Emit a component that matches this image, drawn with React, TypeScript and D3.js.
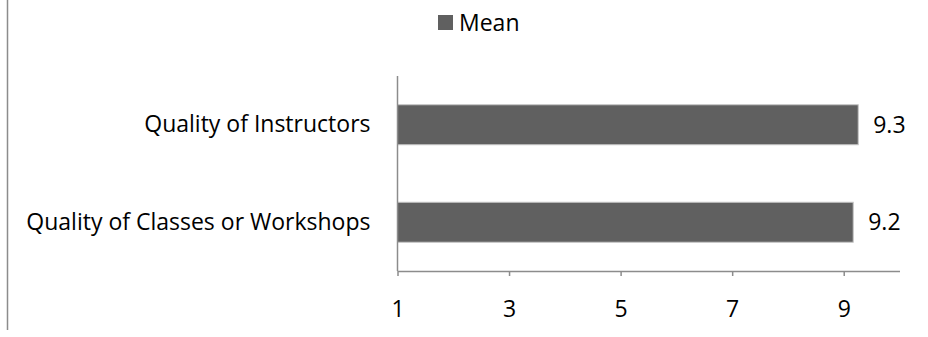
import { useEffect, useRef } from 'react';
import * as d3 from 'd3';

const categories = ['Quality of Instructors', 'Quality of Classes or Workshops'];
const meanValues = [9.26, 9.17];
const valueLabels = ['9.3', '9.2'];
const xTicks = [1, 3, 5, 7, 9];
const seriesName = 'Mean';

const FONT = '"Open Sans", "Noto Sans", sans-serif';
const FONT_SIZE = 23;

export default function App() {
	const svgRef = useRef<SVGSVGElement>(null);

	useEffect(() => {
		const width = 928;
		const height = 337;
		const plot = { left: 397.5, right: 899.5, top: 76, bottom: 271 };

		const svg = d3.select(svgRef.current)
			.attr('width', width)
			.attr('height', height);

		svg.selectAll('*').remove();

		// frame line on the left edge
		svg.append('line')
			.attr('x1', 7.5).attr('x2', 7.5)
			.attr('y1', 0).attr('y2', 330)
			.attr('stroke', '#8c8c8c')
			.attr('stroke-width', 1.5);

		const x = d3.scaleLinear()
			.domain([1, 10])
			.range([plot.left, plot.right]);

		const y = d3.scaleBand()
			.domain(categories)
			.range([plot.top, plot.bottom])
			.paddingInner(0.59)
			.paddingOuter(0.295);

		// legend
		const legend = svg.append('g').attr('transform', 'translate(438, 15)');
		legend.append('rect')
			.attr('width', 15).attr('height', 15)
			.attr('fill', '#606060');
		legend.append('text')
			.attr('x', 21).attr('y', 7.5)
			.attr('dy', '0.35em')
			.attr('font-family', FONT)
			.attr('font-size', FONT_SIZE)
			.attr('fill', '#000')
			.text(seriesName);

		// bars
		svg.append('g')
			.selectAll('rect')
			.data(categories)
			.join('rect')
			.attr('x', x(1))
			.attr('y', d => y(d)!)
			.attr('width', (d, i) => x(meanValues[i]) - x(1))
			.attr('height', y.bandwidth())
			.attr('fill', '#606060')
			.attr('stroke', '#c4c4c4')
			.attr('stroke-width', 1);

		// value labels
		svg.append('g')
			.selectAll('text')
			.data(categories)
			.join('text')
			.attr('x', (d, i) => x(meanValues[i]) + 15)
			.attr('y', d => y(d)! + y.bandwidth() / 2)
			.attr('dy', '0.35em')
			.attr('font-family', FONT)
			.attr('font-size', FONT_SIZE)
			.text((d, i) => valueLabels[i]);

		// category axis
		const yAxis = svg.append('g')
			.attr('transform', `translate(${plot.left}, 0)`)
			.call(d3.axisLeft(y).tickSize(0).tickPadding(27));
		yAxis.select('.domain')
			.attr('d', `M0,${plot.top}V${plot.bottom}`)
			.attr('stroke', '#8c8c8c')
			.attr('stroke-width', 1.5);
		yAxis.selectAll('text')
			.attr('font-family', FONT)
			.attr('font-size', FONT_SIZE)
			.attr('fill', '#000');

		// value axis
		const xAxis = svg.append('g')
			.attr('transform', `translate(0, ${plot.bottom})`)
			.call(d3.axisBottom(x).tickValues(xTicks).tickSize(5).tickSizeOuter(0).tickPadding(25));
		xAxis.select('.domain')
			.attr('stroke', '#8c8c8c')
			.attr('stroke-width', 1.5);
		xAxis.selectAll('.tick line')
			.attr('stroke', '#8c8c8c')
			.attr('stroke-width', 1.5);
		xAxis.selectAll('text')
			.attr('font-family', FONT)
			.attr('font-size', FONT_SIZE)
			.attr('fill', '#000');
	}, []);

	return <svg ref={svgRef} style={{ position: 'absolute', left: 0, top: 0 }} />;
}
